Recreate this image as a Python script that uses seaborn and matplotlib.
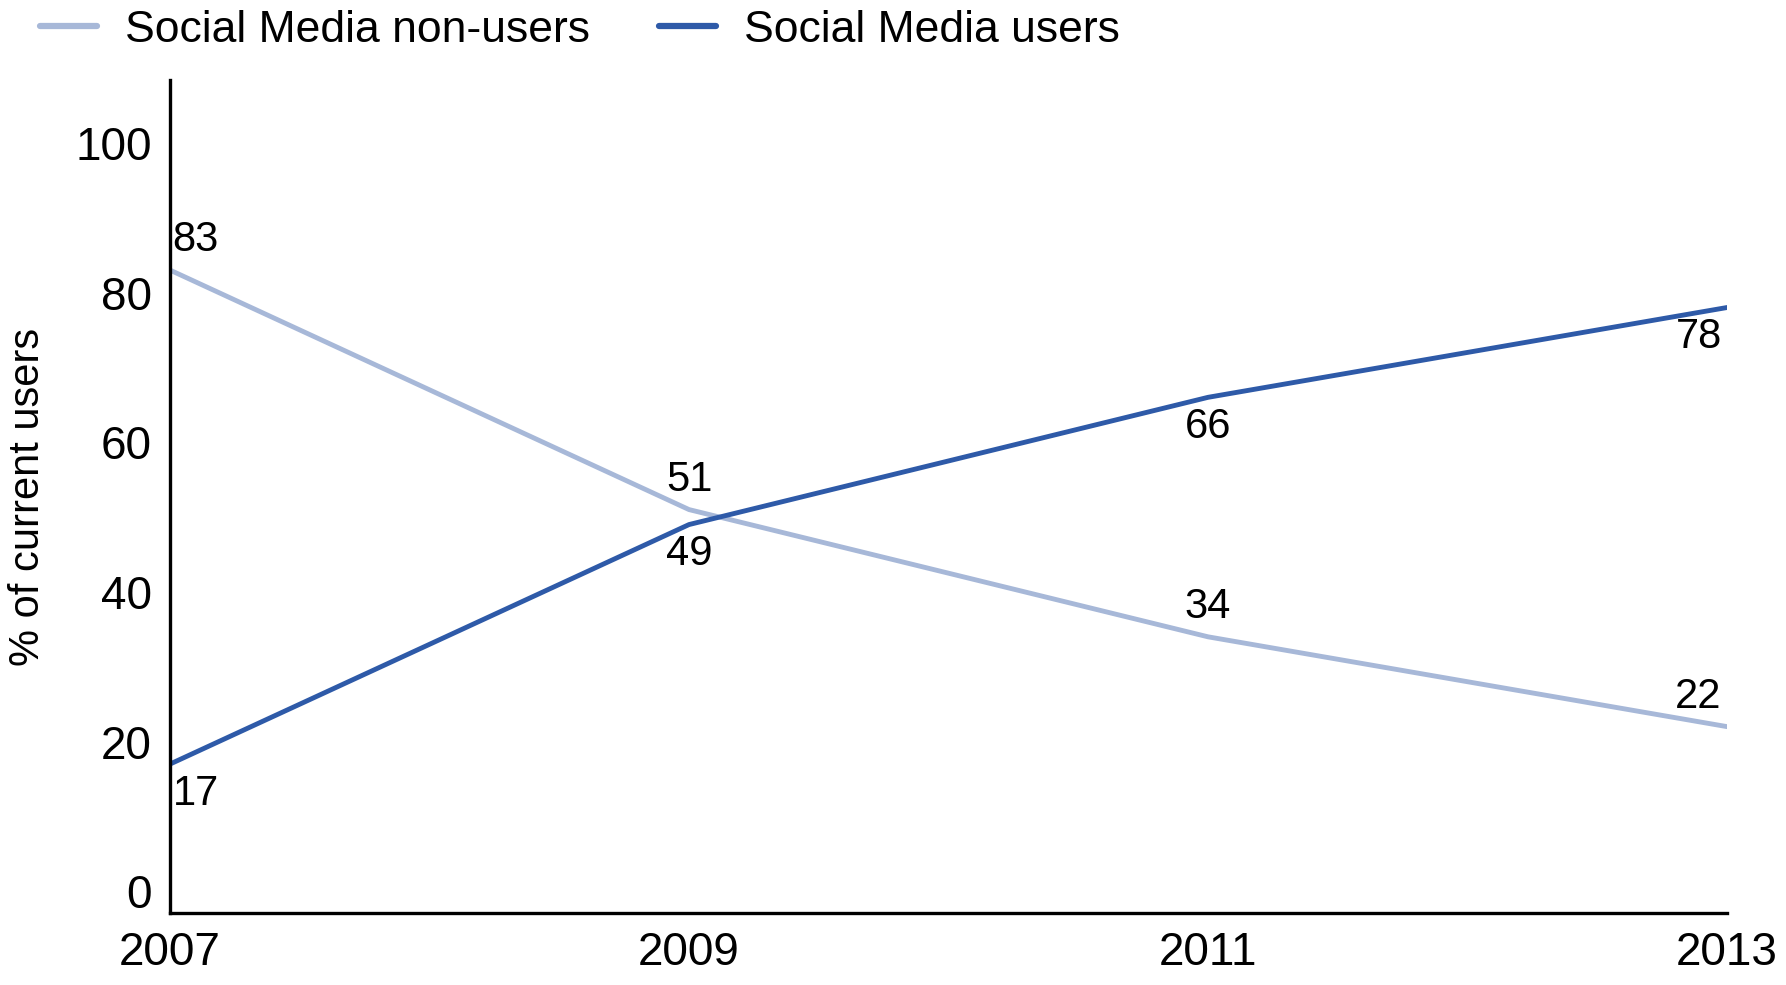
import matplotlib
matplotlib.use("Agg")
import matplotlib.pyplot as plt
import seaborn as sns
import pandas as pd

years = [2007, 2009, 2011, 2013]
non_users = [83, 51, 34, 22]
users = [17, 49, 66, 78]
series_names = ["Social Media non-users", "Social Media users"]
colors = ["#a7b8d8", "#2e5aa8"]

df = pd.DataFrame({
    "year": years * 2,
    "value": non_users + users,
    "series": [series_names[0]] * len(years) + [series_names[1]] * len(years),
})

sns.set_theme(style="white")
plt.rcParams["font.family"] = ["Liberation Sans", "DejaVu Sans"]
plt.rcParams["text.color"] = "black"
plt.rcParams["axes.labelcolor"] = "black"

fig = plt.figure(figsize=(17.86, 9.85), dpi=100)
ax = fig.add_axes([0.0952, 0.0731, 0.8718, 0.8457])

sns.lineplot(data=df, x="year", y="value", hue="series",
             palette=dict(zip(series_names, colors)), linewidth=3.5,
             ax=ax, legend=False)

ax.set_xlim(2007, 2013)
ax.set_ylim(-2.9, 108.4)
ax.set_xticks(years)
ax.set_xticklabels([str(y) for y in years])
ax.set_yticks([0, 20, 40, 60, 80, 100])
ax.tick_params(axis="both", length=0, labelsize=33, colors="black")
ax.tick_params(axis="x", pad=13)
ax.tick_params(axis="y", pad=13)
ax.set_xlabel("")
ax.set_ylabel("% of current users", fontsize=30, labelpad=20)

for side in ["top", "right"]:
    ax.spines[side].set_visible(False)
for side in ["left", "bottom"]:
    ax.spines[side].set_color("black")
    ax.spines[side].set_linewidth(2.4)

# value labels: non-users above the line, users below
for i, yr in enumerate(years):
    if i == 0:
        ha, dx = "left", 0.01
    elif i == len(years) - 1:
        ha, dx = "right", -0.02
    else:
        ha, dx = "center", 0.0
    ax.annotate(str(non_users[i]), (yr + dx, non_users[i]), xytext=(0, 7),
                textcoords="offset points", ha=ha, va="bottom", fontsize=30)
    ax.annotate(str(users[i]), (yr + dx, users[i]), xytext=(0, -7),
                textcoords="offset points", ha=ha, va="top", fontsize=30)

handles = [plt.Line2D([], [], color=c, linewidth=4.5) for c in colors]
fig.legend(handles, series_names, loc="upper left", bbox_to_anchor=(0.0224, 0.99),
           ncol=2, frameon=False, fontsize=32, handlelength=1.28,
           handletextpad=0.63, columnspacing=1.56, borderpad=0, borderaxespad=0)

fig.savefig("out.png", dpi=100)
